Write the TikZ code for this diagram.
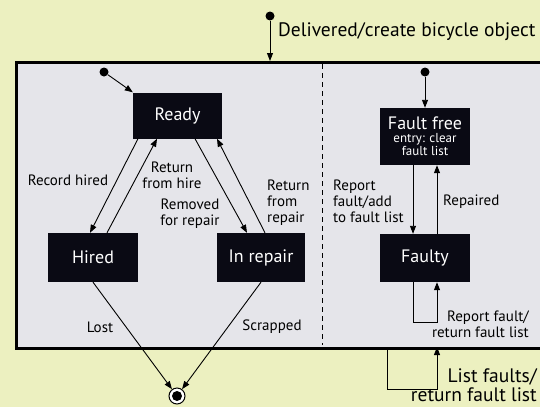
\documentclass[tikz,border=0pt]{standalone}
\usepackage{fontspec}
\setmainfont{PT Sans}
\usetikzlibrary{arrows.meta,calc}
\definecolor{bg}{RGB}{236,240,192}
\definecolor{boxbg}{RGB}{229,229,234}
\definecolor{stfill}{RGB}{10,10,20}
\newcommand{\smallst}{\fontsize{13}{14}\selectfont}
\begin{document}
\begin{tikzpicture}[x=1pt,y=-1pt,
  state/.style={fill=stfill, text=white, inner sep=0pt, align=center, font=\fontsize{18}{20}\selectfont},
  arr/.style={-{Triangle[length=8pt,width=6pt]}, line width=0.9pt},
  lbl/.style={font=\fontsize{15}{16}\selectfont, align=center, inner sep=0pt},
  biglbl/.style={font=\fontsize{19.5}{19}\selectfont, inner sep=0pt},
  dot/.style={circle, fill=black, inner sep=0pt, minimum size=9pt}]
\useasboundingbox (0,0) rectangle (540,407);
\fill[bg] (0,0) rectangle (540,407);
% outer composite state
\node[draw=black, line width=2.8pt, fill=boxbg, minimum width=530pt, minimum height=286pt, inner sep=0pt, anchor=north west] (outer) at (15,61) {};
\draw[line width=0.8pt, dash pattern=on 5pt off 4pt] (322,64) -- (322,345);
% top entry
\node[dot] (start) at (270,16) {};
\draw[arr] (start) -- (start |- outer.north);
\node[biglbl, anchor=west] (dlbl) at (278,32) {Delivered/create bicycle object};
% states
\node[state, minimum width=89pt, minimum height=46pt] (ready) at (177.5,115.5) {Ready};
\node[state, minimum width=90pt, minimum height=49pt] (hired) at (93,257.5) {Hired};
\node[state, minimum width=88pt, minimum height=49pt] (repair) at (261,257.5) {In repair};
\node[state, minimum width=90pt, minimum height=57pt] (ff) at (425,136.5) {Fault free\\[-7pt]\smallst entry: clear\\[-7pt]\smallst fault list};
\node[state, minimum width=90pt, minimum height=48pt] (faulty) at (425,258) {Faulty};
% initial states
\node[dot] (i1) at (104,72) {};
\draw[arr] (i1) -- (ready.north west);
\node[dot] (i2) at (425,72) {};
\draw[arr] (i2) -- (ff.north);
% left region transitions
\draw[arr] ([xshift=-39.5pt]ready.south) -- ([xshift=-3pt]hired.north);
\draw[arr] ([xshift=14pt]hired.north) -- ([xshift=-20.5pt]ready.south);
\draw[arr] ([xshift=17.5pt]ready.south) -- ([xshift=-14pt]repair.north);
\draw[arr] ([xshift=4pt]repair.north) -- ([xshift=39.5pt]ready.south);
\node[lbl] (l1) at (68,180) {Record hired};
\node[lbl] (l2) at (172,175) {Return\\from hire};
\node[lbl] (l3) at (190,214) {Removed\\for repair};
\node[lbl, align=left, anchor=west] (l4) at (267,203) {Return\\from\\repair};
% right region transitions
\draw[arr] ([xshift=-12pt]ff.south) -- ([xshift=-12pt]faulty.north);
\draw[arr] ([xshift=12pt]faulty.north) -- ([xshift=12pt]ff.south);
\node[lbl, align=left, anchor=west] (l5) at (333,201) {Report\\fault/add\\to fault list};
\node[lbl, anchor=west] (l6) at (443,202) {Repaired};
\draw[arr] ([xshift=-12pt]faulty.south) -- ++(0,40) -| ([xshift=12pt]faulty.south);
\node[lbl, align=right, anchor=east] (l7) at (529,324) {Report fault/\\return fault list};
% final state
\node[circle, draw=black, line width=1pt, fill=white, minimum size=16pt, inner sep=0pt] (final) at (177,396) {};
\fill[black] (final.center) circle (5pt);
\draw[arr] (hired.south) -- (final);
\draw[arr] (repair.south) -- (final);
\node[lbl] (l8) at (100,327) {Lost};
\node[lbl] (l9) at (272,327) {Scrapped};
% outer self transition
\coordinate (b1) at (387,347);
\coordinate (b2) at (437,347);
\draw[arr] (b1) -- ++(0,42) -| (b2);
\node[biglbl, align=right, anchor=east] (l10) at (537,385.5) {List faults/\\return fault list};
\end{tikzpicture}
\end{document}
